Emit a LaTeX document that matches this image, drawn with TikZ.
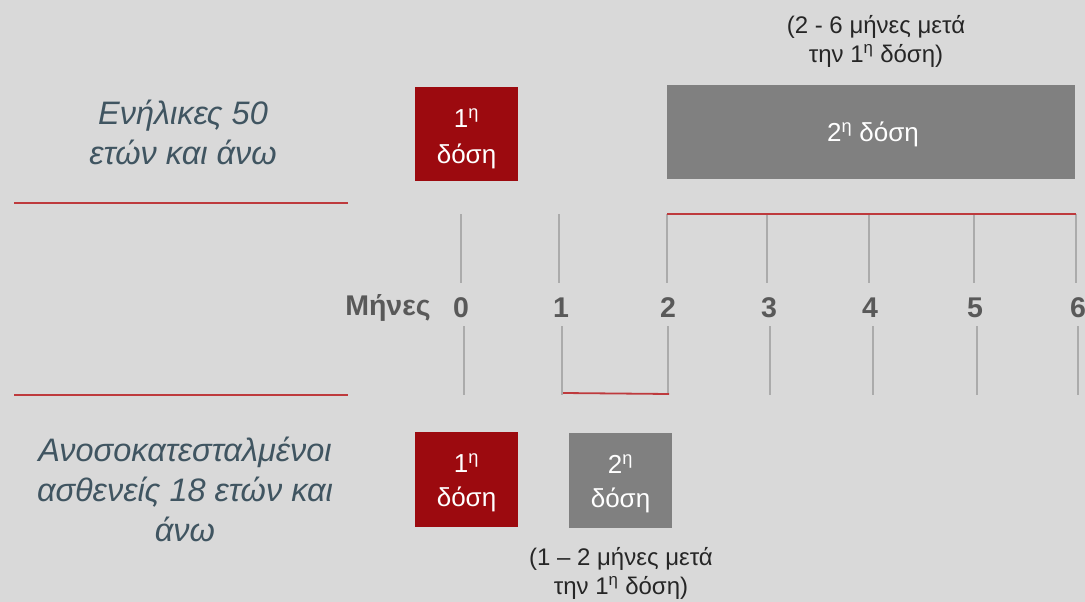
\documentclass[tikz,border=0pt]{standalone}
\usepackage{fontspec}
\setmainfont{Liberation Sans}
\definecolor{bgc}{HTML}{D9D9D9}
\definecolor{redbox}{HTML}{9C0A0F}
\definecolor{graybox}{HTML}{808080}
\definecolor{redline}{HTML}{BE3A3D}
\definecolor{tickc}{HTML}{ABABAB}
\definecolor{labc}{HTML}{595959}
\definecolor{groupc}{HTML}{405561}
\begin{document}
\begin{tikzpicture}[x=1pt,y=-1pt,
  boxshape/.style={inner sep=0pt},
  reddose/.style={boxshape,fill=redbox},
  graydose/.style={boxshape,fill=graybox},
  dosetext/.style={inner sep=0pt,text=white,align=center,font=\fontsize{26}{36}\selectfont},
  note/.style={inner sep=0pt,align=center,text=black!85,font=\fontsize{24}{29}\selectfont},
  group/.style={inner sep=0pt,align=center,text=groupc,font=\fontsize{32.5}{40}\selectfont\itshape},
  sepline/.style={draw=redline,line width=1.6pt},
  tickline/.style={draw=tickc,line width=1.8pt},
  spanline/.style={draw=redline,line width=1.8pt},
  axlab/.style={inner sep=0pt,text=labc,font=\fontsize{28.5}{30}\selectfont\bfseries}
]
\fill[bgc] (0,0) rectangle (1085,602);
\useasboundingbox (0,0) rectangle (1085,602);

% group labels
\node[group] (g1) at (183,132) {Ενήλικες 50\\ετών και άνω};
\node[group] (g2) at (185,489) {Ανοσοκατεσταλμένοι\\ασθενείς 18 ετών και\\άνω};

% separators
\coordinate (s1a) at (14,203); \coordinate (s1b) at (348,203);
\coordinate (s2a) at (14,395); \coordinate (s2b) at (348,395);
\draw[sepline] (s1a) -- (s1b);
\draw[sepline] (s2a) -- (s2b);

% dose boxes, top
\node[reddose,minimum width=103pt,minimum height=94pt] (d1) at (466.5,134) {};
\node[dosetext] (t1) at (466.5,138.5) {1\textsuperscript{η}\\δόση};
\node[graydose,minimum width=408pt,minimum height=94pt] (d2) at (871,132) {};
\node[dosetext] (t2) at (873,134.5) {2\textsuperscript{η} δόση};
\node[note] (n1) at (876,41) {(2 - 6 μήνες μετά\\την 1\textsuperscript{η} δόση)};

% dose boxes, bottom
\node[reddose,minimum width=103pt,minimum height=95pt] (d3) at (466.5,479.5) {};
\node[dosetext,font=\fontsize{26}{34}\selectfont] (t3) at (466.5,483) {1\textsuperscript{η}\\δόση};
\node[graydose,minimum width=103pt,minimum height=95pt] (d4) at (620.5,480.5) {};
\node[dosetext,font=\fontsize{26}{34}\selectfont] (t4) at (620.5,484) {2\textsuperscript{η}\\δόση};
\node[note] (n2) at (621,573) {(1 – 2 μήνες μετά\\την 1\textsuperscript{η} δόση)};

% axis labels
\node[axlab] (m) at (388,308) {Μήνες};
\foreach \n/\x in {0/461,1/561,2/668,3/769,4/870,5/975,6/1078}{
  \node[axlab] (l\n) at (\x,308) {\n};
}

% ticks
\foreach \n/\xt/\xb in {0/461/464,1/559/562,2/667/668,3/767/770,4/869/873,5/974/977,6/1076/1078}{
  \coordinate (ta\n) at (\xt,214); \coordinate (tb\n) at (\xt,283);
  \coordinate (ba\n) at (\xb,326); \coordinate (bb\n) at (\xb,395);
  \draw[tickline] (ta\n) -- (tb\n);
  \draw[tickline] (ba\n) -- (bb\n);
}

% interval marks
\coordinate (r1a) at (667,214); \coordinate (r1b) at (1076,214);
\draw[spanline] (r1a) -- (r1b);
\coordinate (r2a) at (563,393); \coordinate (r2b) at (669,394);
\draw[spanline] (r2a) -- (r2b);
\end{tikzpicture}
\end{document}
